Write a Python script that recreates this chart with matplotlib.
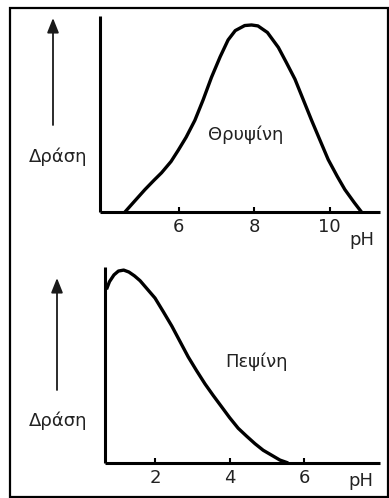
import matplotlib
matplotlib.use("Agg")
import matplotlib.pyplot as plt
from matplotlib.patches import Rectangle

W, H = 389, 498

# enzyme activity vs pH (relative, peak = 1)
trypsin_ph = [4.58, 4.8, 5.11, 5.35, 5.55, 5.8, 5.99, 6.2, 6.43, 6.65,
              6.87, 7.1, 7.31, 7.5, 7.75, 7.93, 8.1, 8.35, 8.64, 8.85,
              9.08, 9.3, 9.52, 9.75, 9.96, 10.2, 10.4, 10.65, 10.84]
trypsin_act = [0.0, 0.05, 0.12, 0.17, 0.21, 0.27, 0.33, 0.40, 0.49, 0.60,
               0.72, 0.83, 0.92, 0.97, 0.997, 1.0, 0.995, 0.96, 0.88, 0.80,
               0.71, 0.60, 0.49, 0.38, 0.28, 0.19, 0.12, 0.05, 0.0]

pepsin_ph = [0.70, 0.78, 0.90, 1.02, 1.16, 1.30, 1.45, 1.60, 1.80, 2.0,
             2.22, 2.45, 2.67, 2.89, 3.11, 3.34, 3.56, 3.79, 4.0, 4.23,
             4.45, 4.68, 4.90, 5.13, 5.35, 5.57]
pepsin_act = [0.90, 0.94, 0.975, 0.995, 1.0, 0.99, 0.97, 0.945, 0.90, 0.855,
              0.785, 0.71, 0.63, 0.55, 0.48, 0.41, 0.35, 0.29, 0.235, 0.18,
              0.14, 0.10, 0.066, 0.04, 0.015, 0.0]

trypsin_ticks = [6, 8, 10]
pepsin_ticks = [2, 4, 6]

ylabel = "Δράση"
txt_color = "#222222"
fsize = 13

plt.rcParams['font.family'] = ['DejaVu Sans']


def px(x, y):
    # pixel coords measured from the top-left corner -> figure fraction
    return x / W, 1 - y / H


def add_panel(fig, left, right, top, bottom, xlim, ylim):
    x0, y0 = px(left, bottom)
    ax = fig.add_axes([x0, y0, (right - left) / W, (bottom - top) / H])
    ax.set_xlim(*xlim)
    ax.set_ylim(*ylim)
    for s in ['top', 'right']:
        ax.spines[s].set_visible(False)
    for s in ['left', 'bottom']:
        ax.spines[s].set_linewidth(2.2)
        ax.spines[s].set_capstyle('butt')
    ax.set_yticks([])
    ax.tick_params(axis='x', direction='in', length=3.5, width=1.5,
                   labelsize=fsize, labelcolor=txt_color, pad=4)
    ax.patch.set_alpha(0)
    return ax


fig = plt.figure(figsize=(W / 100, H / 100), dpi=100)

# outer frame
fx, fy = px(10, 497)
fig.add_artist(Rectangle((fx, fy), 378 / W, 489 / H, transform=fig.transFigure,
                         fill=False, lw=1.6, ec='black'))

# trypsin panel
ax1 = add_panel(fig, 100, 380, 16, 212, (3.92, 11.33), (0, 1.048))
ax1.plot(trypsin_ph, trypsin_act, color='black', lw=2.4,
         solid_joinstyle='round', solid_capstyle='butt', clip_on=False)
ax1.set_xticks(trypsin_ticks)
ax1.text(8.0 + (246 - 254.3) / 37.8, (212 - 135) / 187, "Θρυψίνη",
         ha='center', va='center', fontsize=fsize, color=txt_color)
ax1.annotate("pH", xy=(1.0, 0), xycoords='axes fraction',
             xytext=(-13, -20), textcoords='offset points',
             ha='center', va='center', fontsize=fsize, color=txt_color)

# pepsin panel
ax2 = add_panel(fig, 105, 380, 267, 463, (0.66, 8.03), (0, 1.016))
ax2.plot(pepsin_ph, pepsin_act, color='black', lw=2.4,
         solid_joinstyle='round', solid_capstyle='butt', clip_on=False)
ax2.set_xticks(pepsin_ticks)
ax2.text(2.0 + (256 - 155) / 37.3, (463 - 362) / 193.3, "Πεψίνη",
         ha='center', va='center', fontsize=fsize, color=txt_color)
ax2.annotate("pH", xy=(1.0, 0), xycoords='axes fraction',
             xytext=(-14, -13), textcoords='offset points',
             ha='center', va='center', fontsize=fsize, color=txt_color)

# activity arrows and labels
for ax_x, y_tail, y_tip, y_lab in [(53, 125, 18, 157), (57, 390, 278, 421)]:
    fig.add_artist(plt.Line2D([0], [0], visible=False))
    plt.annotate("", xy=px(ax_x, y_tip), xycoords='figure fraction',
                 xytext=px(ax_x, y_tail), textcoords='figure fraction',
                 arrowprops=dict(arrowstyle='-|>,head_length=0.55,head_width=0.22',
                                 lw=1.3, color='#1a1a1a',
                                 mutation_scale=16, shrinkA=0, shrinkB=0))
    fig.text(*px(58, y_lab), ylabel, ha='center', va='center',
             fontsize=fsize, color=txt_color)

fig.savefig("out.png", dpi=100)
